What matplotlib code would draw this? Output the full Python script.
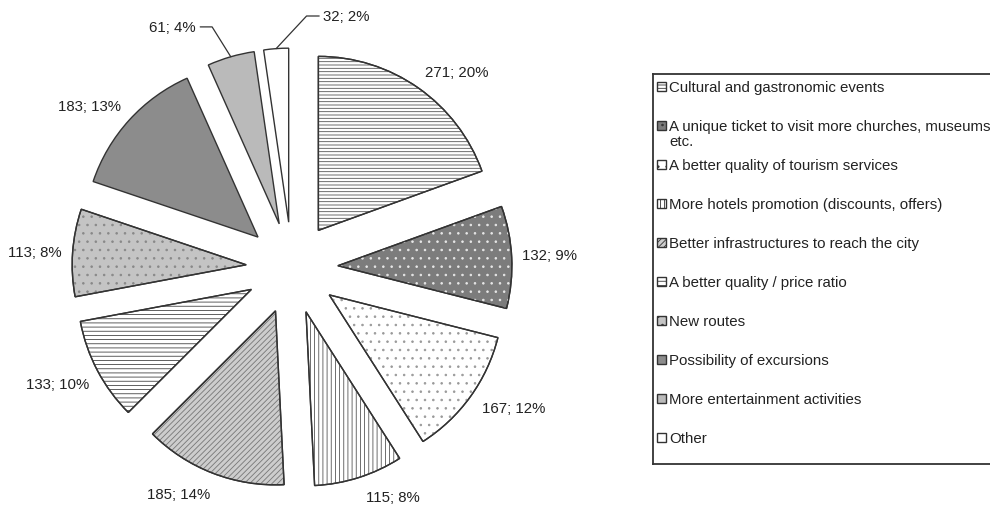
import matplotlib.pyplot as plt
from matplotlib.patches import Wedge, Rectangle
import numpy as np

plt.rcParams['font.family'] = ['Liberation Sans', 'DejaVu Sans']
plt.rcParams['hatch.linewidth'] = 0.6

categories = [
    "Cultural and gastronomic events",
    "A unique ticket to visit more churches, museums\netc.",
    "A better quality of tourism services",
    "More hotels promotion (discounts, offers)",
    "Better infrastructures to reach the city",
    "A better quality / price ratio",
    "New routes",
    "Possibility of excursions",
    "More entertainment activities",
    "Other",
]
counts = [271, 132, 167, 115, 185, 133, 113, 183, 61, 32]
percents = [20, 9, 12, 8, 14, 10, 8, 13, 4, 2]

# look of each slice: fill, hatch, hatch colour
fills = ["white", "#7c7c7c", "white", "white", "#cdcdcd", "white", "#c4c4c4", "#8c8c8c", "#bababa", "white"]
hatches = ["-----", "..", "..", "||||", "//////", "----", "..", None, None, None]
hatch_cols = ["#555555", "#e8e8e8", "#999999", "#555555", "#777777", "#444444", "#888888", None, None, None]

# label placement (radius in pie units, angle nudge in degrees)
lab_dist = [1.47, 1.48, 1.51, 1.44, 1.455, 1.50, 1.48, 1.49]
lab_nudge = [-5, 0, 3.5, 6, -5.5, -1.5, 0.5, 3.5]

FS = 10.8
TXT = "#222222"

W, H = 990, 506
fig = plt.figure(figsize=(W / 100, H / 100), dpi=100)

# pie centre at (292, 269) px, radius 174 px
cx, cy, rpx = 292, 269, 174
ax_w = 600
ax = fig.add_axes([0, 0, ax_w / W, 1])

wedges, _ = ax.pie(counts, startangle=90, counterclock=False, colors=fills,
                   explode=[0.264] * len(counts), radius=1,
                   wedgeprops=dict(edgecolor="#333333", linewidth=1.0))

for w, h, hc in zip(wedges, hatches, hatch_cols):
    if h is None:
        continue
    ax.add_patch(Wedge(w.center, w.r, w.theta1, w.theta2, fill=False,
                       hatch=h, edgecolor=hc, linewidth=0))
    ax.add_patch(Wedge(w.center, w.r, w.theta1, w.theta2, fill=False,
                       edgecolor="#333333", linewidth=1.0))

ax.set_xlim(-cx / rpx, (ax_w - cx) / rpx)
ax.set_ylim(-(H - cy) / rpx, cy / rpx)
ax.set_aspect("equal")
ax.axis("off")

for i, w in enumerate(wedges):
    mid = (w.theta1 + w.theta2) / 2
    txt = f"{counts[i]}; {percents[i]}%"
    if i < len(lab_dist):
        ang = np.deg2rad(mid + lab_nudge[i])
        d = lab_dist[i]
        ax.text(d * np.cos(ang), d * np.sin(ang), txt, ha="center", va="center",
                fontsize=FS, color=TXT)
        continue
    ang = np.deg2rad(mid)
    px = w.center[0] + w.r * np.cos(ang)
    py = w.center[1] + w.r * np.sin(ang)
    if i == 8:
        off, ha, angB = (-25, 21.5), "right", 122
    else:
        off, ha, angB = (34, 23.5), "left", 47
    ax.annotate(txt, xy=(px, py), xytext=off, textcoords="offset points",
                ha=ha, va="center", fontsize=FS, color=TXT,
                arrowprops=dict(arrowstyle="-", color="#333333", lw=0.9,
                                shrinkA=1, shrinkB=0,
                                connectionstyle=f"angle,angleA=0,angleB={angB},rad=0"))

# legend box, laid out in pixels like the original (one fixed slot per entry)
lx, ly, lw, lh = 653, 75, 345, 390
lax = fig.add_axes([lx / W, (H - ly - lh) / H, lw / W, lh / H])
lax.set_xlim(0, lw)
lax.set_ylim(lh, 0)
lax.set_xticks([])
lax.set_yticks([])
for s in lax.spines.values():
    s.set_color("#333333")
    s.set_linewidth(1.3)

slot0, slot = 12, 39
for i, lab in enumerate(categories):
    yc = slot0 + slot * i
    lax.add_patch(Rectangle((4, yc - 4.5), 9, 9, facecolor=fills[i], edgecolor="#333333",
                            hatch=hatches[i], linewidth=1.0))
    lax.text(16, yc - 6, lab, ha="left", va="top", fontsize=FS, color=TXT,
             linespacing=1.05)

fig.savefig("out.png", dpi=100)
